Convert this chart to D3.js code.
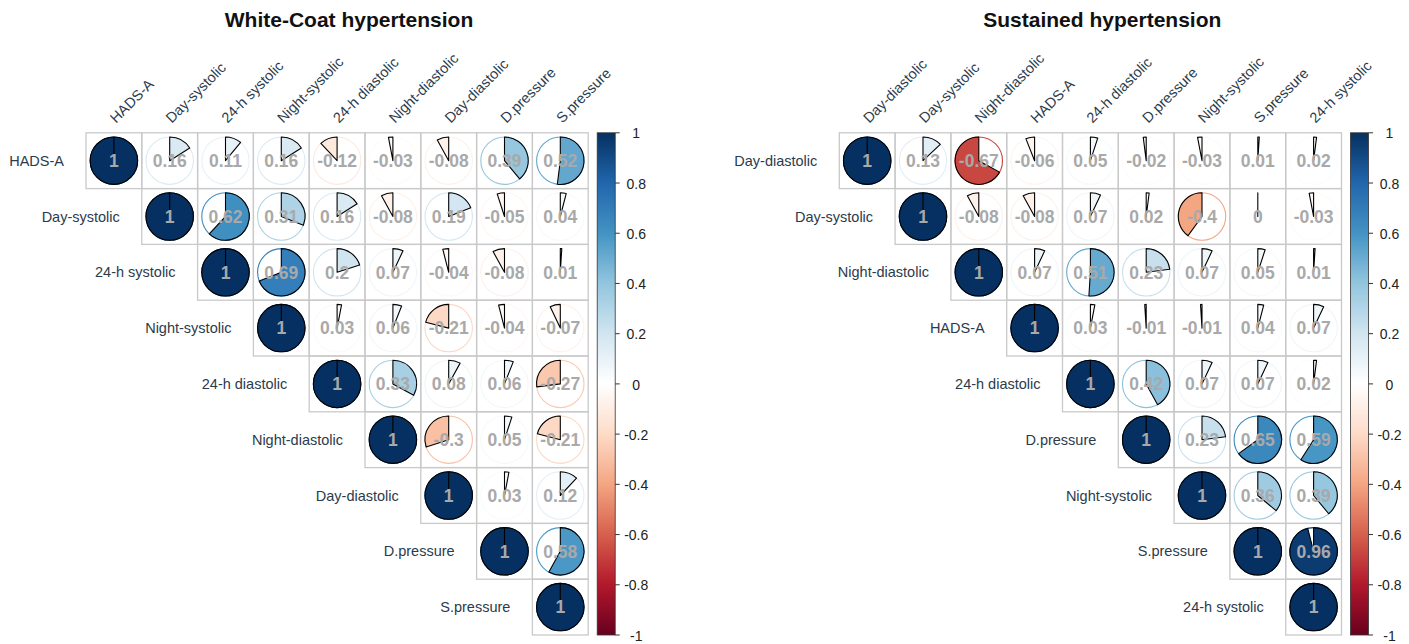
<!DOCTYPE html>
<html>
<head>
<meta charset="utf-8">
<script src="https://cdn.jsdelivr.net/npm/d3@7"></script>
<style>
  html, body { margin: 0; padding: 0; background: #ffffff; }
  svg { display: block; font-family: "Liberation Sans", Arial, sans-serif; }
</style>
</head>
<body>
<svg id="chart" width="1409" height="644"></svg>
<script>
// ---- White-Coat hypertension: variable order and upper-triangle correlations ----
const wcTitle = "White-Coat hypertension";
const wcVars = ["HADS-A", "Day-systolic", "24-h systolic", "Night-systolic", "24-h diastolic",
                "Night-diastolic", "Day-diastolic", "D.pressure", "S.pressure"];
const wcRows = [
  [1, 0.16, 0.11, 0.16, -0.12, -0.03, -0.08, 0.39, 0.52],
  [1, 0.62, 0.31, 0.16, -0.08, 0.19, -0.05, 0.04],
  [1, 0.69, 0.2, 0.07, -0.04, -0.08, 0.01],
  [1, 0.03, 0.06, -0.21, -0.04, -0.07],
  [1, 0.33, 0.08, 0.06, -0.27],
  [1, -0.3, 0.05, -0.21],
  [1, 0.03, 0.12],
  [1, 0.58],
  [1]
];

// ---- Sustained hypertension ----
const shTitle = "Sustained hypertension";
const shVars = ["Day-diastolic", "Day-systolic", "Night-diastolic", "HADS-A", "24-h diastolic",
                "D.pressure", "Night-systolic", "S.pressure", "24-h systolic"];
const shRows = [
  [1, 0.13, -0.67, -0.06, 0.05, -0.02, -0.03, 0.01, 0.02],
  [1, -0.08, -0.08, 0.07, 0.02, -0.4, 0, -0.03],
  [1, 0.07, 0.51, 0.23, 0.07, 0.05, 0.01],
  [1, 0.03, -0.01, -0.01, 0.04, 0.07],
  [1, 0.42, 0.07, 0.07, 0.02],
  [1, 0.23, 0.65, 0.59],
  [1, 0.36, 0.39],
  [1, 0.96],
  [1]
];

// ---- colour legend ticks ----
const legendTicks = [1, 0.8, 0.6, 0.4, 0.2, 0, -0.2, -0.4, -0.6, -0.8, -1];
const rdbuStops = ["#67001F", "#B2182B", "#D6604D", "#F4A582", "#FDDBC7", "#FFFFFF",
                   "#D1E5F0", "#92C5DE", "#4393C3", "#2166AC", "#053061"];

const color = d3.scaleLinear()
  .domain(d3.range(11).map(i => -1 + i * 0.2))
  .range(rdbuStops)
  .interpolate(d3.interpolateRgb);

const svg = d3.select("#chart");
const defs = svg.append("defs");
const grad = defs.append("linearGradient")
  .attr("id", "rdbu").attr("x1", 0).attr("y1", 1).attr("x2", 0).attr("y2", 0);
d3.range(0, 1.0001, 0.05).forEach(t => {
  grad.append("stop").attr("offset", t).attr("stop-color", color(-1 + 2 * t));
});

const cell = 55.8;
const gridTop = 132.8;
const labelCol = "#2c3b4b";
const numCol = "#a9a9a9";
const labelSize = 14.5;

function wedgePath(cx, cy, r, v) {
  const p = d3.path();
  const a0 = -Math.PI / 2;
  const theta = 2 * Math.PI * v;
  p.moveTo(cx, cy);
  p.lineTo(cx, cy - r);
  if (v !== 0) p.arc(cx, cy, r, a0, a0 + theta, theta < 0);
  p.closePath();
  return p.toString();
}

function drawPanel(vars, rows, x0, title) {
  const n = vars.length;
  const x = d3.scaleBand().domain(vars).range([x0, x0 + n * cell]);
  const y = d3.scaleBand().domain(vars).range([gridTop, gridTop + n * cell]);
  const r = cell * 0.425;
  const g = svg.append("g");

  // title
  g.append("text")
    .attr("x", x0 + 263)
    .attr("y", 27)
    .attr("text-anchor", "middle")
    .attr("font-size", 21)
    .attr("font-weight", "bold")
    .attr("fill", "#111")
    .text(title);

  // cells
  const cells = [];
  rows.forEach((row, i) => {
    row.forEach((v, k) => {
      cells.push({ rowVar: vars[i], colVar: vars[i + k], v: v });
    });
  });

  g.selectAll("rect.cell").data(cells).join("rect")
    .attr("class", "cell")
    .attr("x", d => x(d.colVar))
    .attr("y", d => y(d.rowVar))
    .attr("width", x.bandwidth())
    .attr("height", y.bandwidth())
    .attr("fill", "none")
    .attr("stroke", "#c9c9c9")
    .attr("stroke-width", 1.3);

  // outer circles
  g.selectAll("circle.ring").data(cells).join("circle")
    .attr("class", "ring")
    .attr("cx", d => x(d.colVar) + x.bandwidth() / 2)
    .attr("cy", d => y(d.rowVar) + y.bandwidth() / 2)
    .attr("r", r)
    .attr("fill", "white")
    .attr("stroke", d => color(d.v))
    .attr("stroke-width", 1.1);

  // pie wedges
  g.selectAll("path.wedge").data(cells).join("path")
    .attr("class", "wedge")
    .attr("d", d => wedgePath(x(d.colVar) + x.bandwidth() / 2, y(d.rowVar) + y.bandwidth() / 2, r, d.v))
    .attr("fill", d => color(d.v))
    .attr("stroke", "#000")
    .attr("stroke-width", 1.1)
    .attr("stroke-linejoin", "round");

  // coefficients
  g.selectAll("text.num").data(cells).join("text")
    .attr("class", "num")
    .attr("x", d => x(d.colVar) + x.bandwidth() / 2)
    .attr("y", d => y(d.rowVar) + y.bandwidth() / 2)
    .attr("dy", "0.36em")
    .attr("text-anchor", "middle")
    .attr("font-size", 17.5)
    .attr("font-weight", "bold")
    .attr("fill", numCol)
    .text(d => String(d.v));

  // row labels
  g.selectAll("text.rowlab").data(vars).join("text")
    .attr("class", "rowlab")
    .attr("x", d => x(d) - 22)
    .attr("y", d => y(d) + y.bandwidth() / 2)
    .attr("dy", "0.35em")
    .attr("text-anchor", "end")
    .attr("font-size", labelSize)
    .attr("fill", labelCol)
    .text(d => d);

  // column labels
  g.selectAll("text.collab").data(vars).join("text")
    .attr("class", "collab")
    .attr("transform", d => `translate(${x(d) + x.bandwidth() / 2 + 2},${gridTop - 9}) rotate(-45)`)
    .attr("text-anchor", "start")
    .attr("font-size", labelSize)
    .attr("fill", labelCol)
    .text(d => d);

  // colour legend
  const bx = x0 + n * cell + 9;
  const bw = 18;
  const ly = d3.scaleLinear().domain([-1, 1]).range([gridTop + n * cell, gridTop]);
  g.append("rect")
    .attr("x", bx).attr("y", ly(1))
    .attr("width", bw).attr("height", ly(-1) - ly(1))
    .attr("fill", "url(#rdbu)")
    .attr("stroke", "#333").attr("stroke-width", 0.8);
  g.selectAll("line.tick").data(legendTicks).join("line")
    .attr("class", "tick")
    .attr("x1", bx + bw).attr("x2", bx + bw + 4.5)
    .attr("y1", d => ly(d)).attr("y2", d => ly(d))
    .attr("stroke", "#333").attr("stroke-width", 1);
  g.selectAll("text.ticklab").data(legendTicks).join("text")
    .attr("class", "ticklab")
    .attr("x", bx + bw + 21)
    .attr("y", d => ly(d))
    .attr("dy", "0.4em")
    .attr("text-anchor", "middle")
    .attr("font-size", 14)
    .attr("fill", "#222")
    .text(d => String(d));
}

drawPanel(wcVars, wcRows, 86, wcTitle);
drawPanel(shVars, shRows, 839.3, shTitle);
</script>
</body>
</html>
